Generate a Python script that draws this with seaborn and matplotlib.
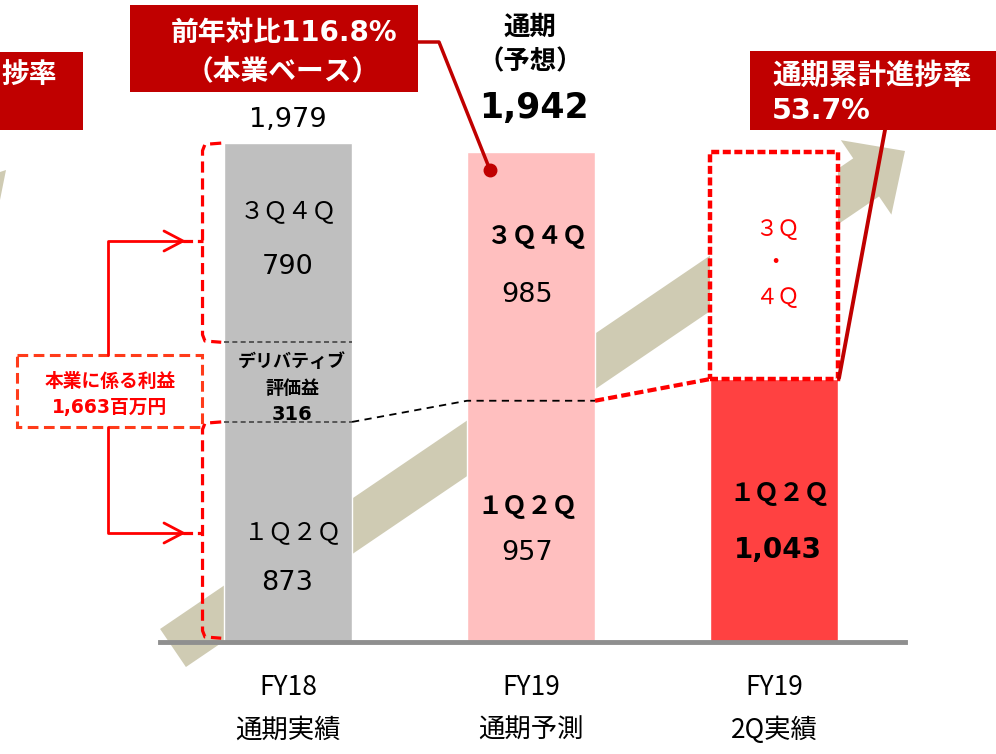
import matplotlib
matplotlib.use("Agg")
import matplotlib.pyplot as plt
import seaborn as sns
import pandas as pd
import numpy as np
from matplotlib.patches import Rectangle, Polygon

# ---------------- data ----------------
categories = ["FY18\n通期実績", "FY19\n通期予測", "FY19\n2Q実績"]
first_half = [873, 957, 1043]        # 1Q2Q
derivative_gain = [316, 0, 0]        # デリバティブ評価益
second_half = [790, 985, 0]          # 3Q4Q
totals = [1979, 1942, 1043]
forecast_total = 1942
yoy_label = "前年対比116.8%"
progress_label = "53.7%"
core_profit_label = "1,663百万円"

bar_colors = ["#BFBFBF", "#FFBFBF", "#FF4141"]
DARK_RED = "#C00000"
RED = "#FF0000"
KHAKI = "#CFCBB3"

sns.set_theme(style="white")
plt.rcParams["font.family"] = ["DejaVu Sans", "Noto Sans CJK JP"]
plt.rcParams["text.color"] = "black"
plt.rcParams["xtick.color"] = "black"

W, H = 996, 754
fig = plt.figure(figsize=(W / 100, H / 100), dpi=100)


def px_axes(l, t, r, b):
    return [l / W, (H - b) / H, (r - l) / W, (b - t) / H]


bg = fig.add_axes([0, 0, 1, 1], zorder=0)
bg.set_xlim(0, W); bg.set_ylim(H, 0); bg.axis("off")

ax = fig.add_axes(px_axes(160, 100, 905, 642), zorder=1)
ax.patch.set_alpha(0)

ov = fig.add_axes([0, 0, 1, 1], zorder=2)
ov.set_xlim(0, W); ov.set_ylim(H, 0); ov.axis("off")

# ---------------- background trend arrow ----------------
tail = np.array([173.0, 648.0]); tip = np.array([905.0, 151.0])
d = (tip - tail) / np.linalg.norm(tip - tail)
n = np.array([-d[1], d[0]])
if n[1] < 0:
    n = -n
base = tip - 47 * d
pts = [tail + 23 * n, base + 23 * n, base + 45 * n, tip, base - 45 * n, base - 23 * n, tail - 23 * n]
bg.add_patch(Polygon(pts, closed=True, fc=KHAKI, ec="none"))
bg.add_patch(Polygon([(0, 172), (6, 170), (0, 200)], closed=True, fc=KHAKI, ec="none"))

# ---------------- bars ----------------
bw = 128 / 243
hw = bw / 2
df = pd.DataFrame({"cat": categories, "total": totals})
sns.barplot(data=df, x="cat", y="total", hue="cat", palette=bar_colors,
            width=bw, saturation=1, legend=False, ax=ax, zorder=2)
ax.set_xlim(-0.527, 2.539)
ax.set_ylim(0, 2150)
ax.set_yticks([])
ax.set_xlabel(""); ax.set_ylabel("")
sns.despine(ax=ax, left=True, top=True, right=True)
ax.spines["bottom"].set_color("#8F8F8F")
ax.spines["bottom"].set_linewidth(3.5)
ax.set_xticks(range(len(categories)))
ax.set_xticklabels(categories, fontsize=19, family=["Noto Sans CJK JP"], linespacing=1.75,
                   color="black")
ax.tick_params(axis="x", length=0, pad=23, colors="black")

# segment boundaries inside FY18 bar
for yv in [first_half[0], first_half[0] + derivative_gain[0]]:
    ax.plot([-hw, hw], [yv, yv], color="#444444", lw=1.2, ls=(0, (3, 2)), zorder=3)

# connector lines
ax.plot([hw, 1 - hw, 1 + hw], [first_half[0], first_half[1], first_half[1]],
        color="black", lw=1.3, ls=(0, (4, 3)), zorder=3, clip_on=False)
ax.plot([1 + hw, 2 - hw], [first_half[1], first_half[2]],
        color=RED, lw=3, ls=(0, (2.2, 1)), zorder=3, clip_on=False)
ax.add_patch(Rectangle((2 - hw, first_half[2]), bw, forecast_total - first_half[2],
                       fc="white", ec=RED, lw=3.2, ls=(0, (1.8, 0.8)), zorder=3))

# red dashed brackets around FY18 segments
xb, xe = -0.352, -0.275
top_hi, top_lo = totals[0], first_half[0] + derivative_gain[0]
low_hi, low_lo = first_half[0], 15
for hi, lo in [(top_hi, top_lo), (low_hi, low_lo)]:
    ax.plot([xe, xb + 0.01, xb, xb, xb + 0.01, xe], [hi, hi - 5, hi - 30, lo + 30, lo + 5, lo],
            color=RED, lw=2.3, ls=(0, (3.5, 1.8)), zorder=3, clip_on=False)

# ---------------- left annotation ----------------
ov.add_patch(Rectangle((17, 355), 185, 72, fc="none", ec="#FF3B1A", lw=2.2, ls=(0, (3.5, 1.8))))
ov.text(110, 381, "本業に係る利益", color=RED, fontsize=13.5, fontweight="bold", ha="center", va="center")
ov.text(110, 408, core_profit_label, color=RED, fontsize=13.5, fontweight="bold", ha="center", va="center")
for y0, y1 in [(355, 241), (427, 533)]:
    ov.plot([108, 108, 183], [y0, y1, y1], color=RED, lw=2)
    ov.plot([164, 183, 164], [y1 - 10, y1, y1 + 10], color=RED, lw=2)
    ov.plot([183, 203], [y1, y1], color=RED, lw=2.3, ls=(0, (3, 1.5)))

# ---------------- callouts ----------------
ov.add_patch(Rectangle((-10, 52), 93, 78, fc=DARK_RED, ec="none"))
ov.text(1, 75, "捗率", color="white", fontsize=20, fontweight="bold", ha="left", va="center")

ov.add_patch(Rectangle((130, 5), 288, 87, fc=DARK_RED, ec="none"))
ov.text(284, 33, yoy_label, color="white", fontsize=20, fontweight="bold", ha="center", va="center")
ov.text(283, 71, "（本業ベース）", color="white", fontsize=20, fontweight="bold", ha="center", va="center")
ov.plot([418, 439, 490], [42, 42, 170], color=DARK_RED, lw=2.5)
ov.plot([490], [170], "o", color=DARK_RED, ms=9)

ov.add_patch(Rectangle((750, 51), 260, 79, fc=DARK_RED, ec="none"))
ov.text(772, 76, "通期累計進捗率", color="white", fontsize=20.5, fontweight="bold", ha="left", va="center")
ov.text(772, 111, progress_label, color="white", fontsize=20.5, fontweight="bold", ha="left", va="center")
ov.plot([885, 839], [130, 378], color=DARK_RED, lw=2.8)

# ---------------- value labels ----------------
def fmt(v):
    return f"{v:,}"

ov.text(288, 120, fmt(totals[0]), fontsize=19.5, ha="center", va="center", color="black")
ov.text(530, 28, "通期", fontsize=19, fontweight="bold", ha="center", va="center")
ov.text(530, 62, "（予想）", fontsize=19, fontweight="bold", ha="center", va="center")
ov.text(534, 108, fmt(forecast_total), fontsize=25, fontweight="bold", ha="center", va="center")

# FY18
ov.text(288, 211, "３Ｑ４Ｑ", fontsize=17.5, ha="center", va="center")
ov.text(288, 267, fmt(second_half[0]), fontsize=19.5, ha="center", va="center")
ov.text(292, 362, "デリバティブ", fontsize=13, fontweight="bold", ha="center", va="center")
ov.text(292, 389, "評価益", fontsize=13, fontweight="bold", ha="center", va="center")
ov.text(292, 415, fmt(derivative_gain[0]), fontsize=14, fontweight="bold", ha="center", va="center")
ov.text(293, 532, "１Ｑ２Ｑ", fontsize=17.5, ha="center", va="center")
ov.text(287, 583, fmt(first_half[0]), fontsize=19.5, ha="center", va="center")

# FY19 forecast
ov.text(537, 237, "３Ｑ４Ｑ", fontsize=18, fontweight="bold", ha="center", va="center")
ov.text(527, 295, fmt(second_half[1]), fontsize=19.5, ha="center", va="center")
ov.text(527, 507, "１Ｑ２Ｑ", fontsize=18, fontweight="bold", ha="center", va="center")
ov.text(527, 553, fmt(first_half[1]), fontsize=19.5, ha="center", va="center")

# FY19 2Q actual
ov.text(777, 230, "３Ｑ", fontsize=16, color=RED, ha="center", va="center")
ov.text(775, 263, "・", fontsize=16, color=RED, ha="center", va="center")
ov.text(777, 298, "４Ｑ", fontsize=16, color=RED, ha="center", va="center")
ov.text(779, 494, "１Ｑ２Ｑ", fontsize=18, fontweight="bold", ha="center", va="center")
ov.text(778, 550, fmt(first_half[2]), fontsize=20, fontweight="bold", ha="center", va="center")

fig.savefig("out.png", dpi=100)
